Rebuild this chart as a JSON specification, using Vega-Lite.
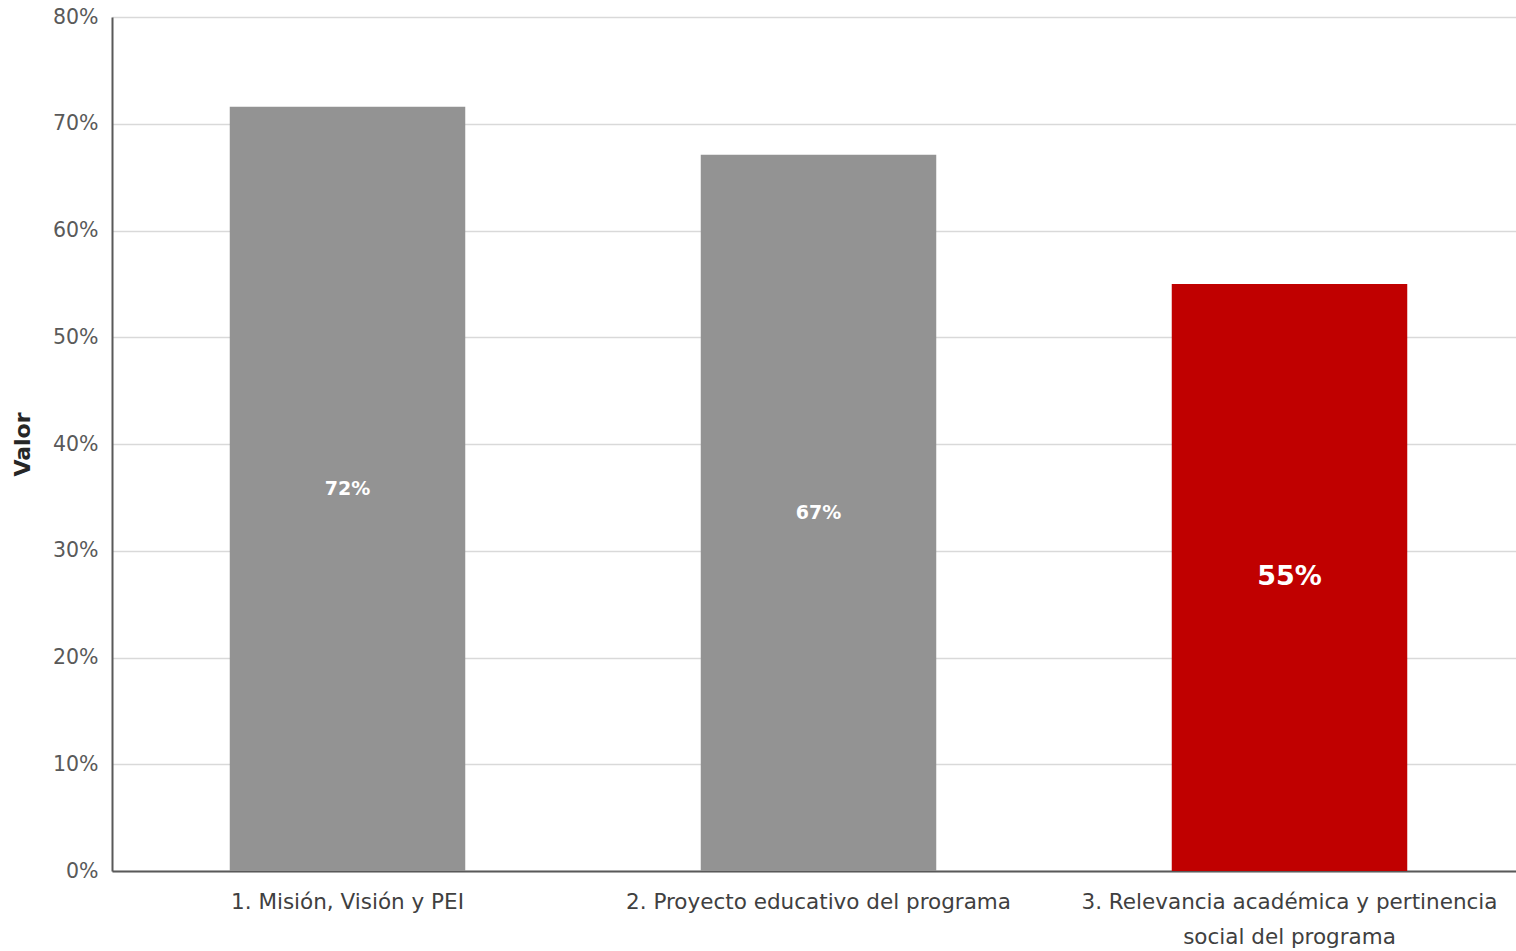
{
  "$schema": "https://vega.github.io/schema/vega-lite/v6.json",
  "width": 1413,
  "height": 854,
  "autosize": {"type": "none"},
  "padding": {"left": 112, "top": 17, "right": 0, "bottom": 80},
  "background": "white",
  "config": {
    "view": {"stroke": null},
    "font": "DejaVu Sans"
  },
  "data": {
    "values": [
      {"categoria": "1. Misión, Visión y PEI", "valor": 0.716},
      {"categoria": "2. Proyecto educativo del programa", "valor": 0.671},
      {"categoria": "3. Relevancia académica y pertinencia\nsocial del programa", "valor": 0.55}
    ]
  },
  "transform": [{"calculate": "datum.valor / 2", "as": "medio"}],
  "encoding": {
    "x": {
      "field": "categoria",
      "type": "nominal",
      "sort": null,
      "scale": {"paddingInner": 0.5, "paddingOuter": 0.25},
      "axis": {
        "title": null,
        "labelAngle": 0,
        "labelExpr": "split(datum.label, '\\n')",
        "labelFont": "DejaVu Sans",
        "labelFontSize": 21.5,
        "labelColor": "#404040",
        "labelPadding": 20,
        "labelLineHeight": 35,
        "labelLimit": 600,
        "ticks": false,
        "domainColor": "#595959",
        "domainWidth": 2,
        "grid": false
      }
    }
  },
  "layer": [
    {
      "mark": {"type": "bar"},
      "encoding": {
        "y": {
          "field": "valor",
          "type": "quantitative",
          "scale": {"domain": [0, 0.8], "nice": false},
          "axis": {
            "title": "Valor",
            "titleFont": "DejaVu Sans",
            "titleFontSize": 22,
            "titleFontWeight": "bold",
            "titleColor": "#262626",
            "titlePadding": 18,
            "format": ".0%",
            "values": [0, 0.1, 0.2, 0.3, 0.4, 0.5, 0.6, 0.7, 0.8],
            "labelFont": "DejaVu Sans",
            "labelFontSize": 20.5,
            "labelColor": "#595959",
            "labelPadding": 14,
            "ticks": false,
            "domainColor": "#595959",
            "domainWidth": 2,
            "gridColor": "#d9d9d9",
            "gridWidth": 1.5
          }
        },
        "color": {
          "field": "categoria",
          "type": "nominal",
          "scale": {"range": ["#939393", "#939393", "#c00000"]},
          "legend": null
        }
      }
    },
    {
      "mark": {"type": "text", "color": "white", "fontWeight": "bold", "baseline": "middle", "align": "center", "font": "DejaVu Sans"},
      "encoding": {
        "y": {"field": "medio", "type": "quantitative"},
        "text": {"field": "valor", "type": "quantitative", "format": ".0%"},
        "size": {
          "condition": {"test": "datum.valor < 0.6", "value": 27},
          "value": 19
        }
      }
    }
  ]
}
